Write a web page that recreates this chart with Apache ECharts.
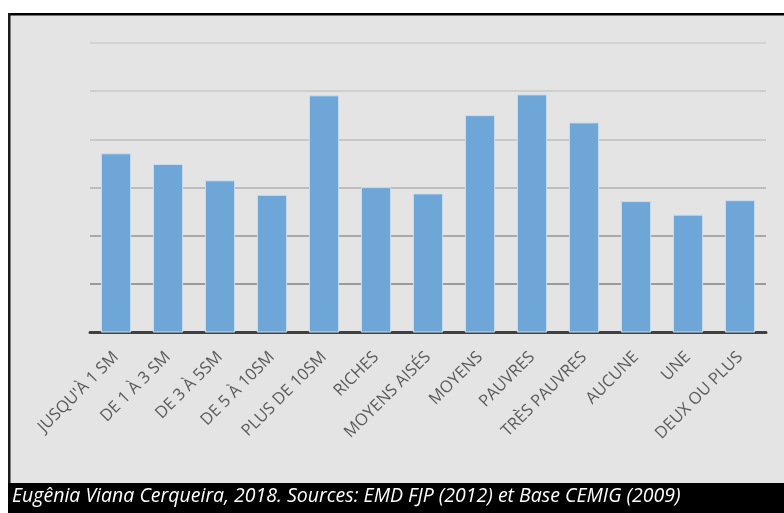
<!DOCTYPE html>
<html>
<head>
<meta charset="utf-8">
<script src="https://cdn.jsdelivr.net/npm/echarts@6/dist/echarts.min.js"></script>
<style>
html,body{margin:0;padding:0;background:#ffffff;overflow:hidden;}
#chart{width:784px;height:513px;}
</style>
</head>
<body>
<div id="chart"></div>
<script>
const categories = ["JUSQU'À 1 SM","DE 1 À 3 SM","DE 3 À 5SM","DE 5 À 10SM","PLUS DE 10SM","RICHES","MOYENS AISÉS","MOYENS","PAUVRES","TRÈS PAUVRES","AUCUNE","UNE","DEUX OU PLUS"];
const values = [3.71, 3.49, 3.15, 2.85, 4.91, 3.01, 2.88, 4.50, 4.93, 4.35, 2.72, 2.44, 2.74];
const footerText = "Eugênia Viana Cerqueira, 2018. Sources: EMD FJP (2012) et Base CEMIG (2009)";

const chart = echarts.init(document.getElementById('chart'), null, {renderer:'canvas', width:784, height:513});
chart.setOption({
  animation:false,
  backgroundColor:'#ffffff',
  graphic:[
    {type:'rect', z:-10, silent:true, shape:{x:8, y:13, width:776, height:500}, style:{fill:'#e4e4e4'}},
    {type:'rect', z:-9, silent:true, shape:{x:8, y:13, width:776, height:2.5}, style:{fill:'#000000'}},
    {type:'rect', z:-9, silent:true, shape:{x:8, y:13, width:2.5, height:500}, style:{fill:'#1a1a1a'}},
    {type:'rect', z:-8, silent:true, shape:{x:8, y:483, width:776, height:30}, style:{fill:'#000000'}},
    {type:'rect', z:-7, silent:true, shape:{x:778, y:16, width:6, height:466}, style:{fill:'#e4e4e4'}},
    {type:'text', z:10, silent:true, left:12, top:486, style:{text:footerText, fill:'#ffffff', font:'italic 19.5px "Open Sans"'}}
  ],
  grid:{left:90, right:18, top:42.7, bottom:180.5, containLabel:false},
  xAxis:{
    type:'category', data:categories,
    axisLine:{lineStyle:{color:'#404040', width:3}},
    axisTick:{show:false},
    axisLabel:{rotate:45, interval:0, margin:22, color:'#5a5a5a', fontSize:16.5, fontFamily:'"Open Sans"'}
  },
  yAxis:{
    type:'value', min:0, max:6, interval:1,
    axisLabel:{show:false}, axisLine:{show:false}, axisTick:{show:false},
    splitLine:{lineStyle:{color:['#404040','#9a9a9a','#a8a8a8','#bdbdbd','#c8c8c8','#cfcfcf','#d3d3d3'], width:2}}
  },
  series:[{
    type:'bar', data:values, barCategoryGap:'42%',
    itemStyle:{color:'#6fa6d8', borderColor:'#c9ddf0', borderWidth:1}
  }]
});
</script>
</body>
</html>
